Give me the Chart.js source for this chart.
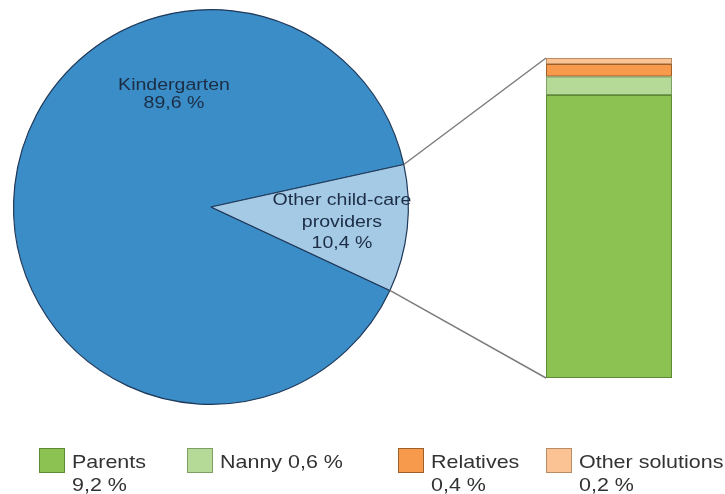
<!DOCTYPE html>
<html>
<head>
<meta charset="utf-8">
<script src="https://cdn.jsdelivr.net/npm/chart.js@4"></script>
<style>
  html, body { margin: 0; padding: 0; background: #fff; }
  #wrap { position: relative; width: 725px; height: 494px; overflow: hidden;
          font-family: 'Liberation Sans', Arial, sans-serif; }
  canvas { position: absolute; left: 0; top: 0; }
  .pie-label { position: absolute; text-align: center; color: #1c2d45; font-size: 16px;
               white-space: nowrap; transform: translateX(-50%) scaleX(1.22); }
  .leg-box { position: absolute; width: 24px; height: 23px; border: 1.5px solid; }
  .leg-text { position: absolute; color: #333; font-size: 19px; line-height: 23px;
              white-space: nowrap; transform: scaleX(1.13); transform-origin: left top; }
</style>
</head>
<body>
<div id="wrap">
  <canvas id="pieChart" width="725" height="494"></canvas>
  <canvas id="barChart" width="725" height="494"></canvas>
</div>
<script>
'use strict';

// ── Data ────────────────────────────────────────────────────────────
const pieLabels = ['Kindergarten', 'Other child-care providers'];
const pieValues = [89.6, 10.4];
const pieText   = [['Kindergarten'], ['Other child-care', 'providers']];

const barLabels = ['Parents', 'Nanny', 'Relatives', 'Other solutions'];
const barValues = [9.2, 0.6, 0.4, 0.2];
const barSplit  = [true, false, true, true];   // value on second line?

const PIE_COLORS = ['#3a8dc6', '#a5cae6'];
const BAR_COLORS  = ['#8cc251', '#b5d996', '#f79a4b', '#fbc394'];
const BAR_BORDERS = ['#5e8a33', '#7d9f64', '#9e5f2a', '#b98c66'];

const fmtPct = v => `${v.toFixed(1).replace('.', ',')} %`;

Chart.defaults.animation = false;

// ── Pie ─────────────────────────────────────────────────────────────
const pieChart = new Chart(document.getElementById('pieChart'), {
  type: 'pie',
  data: {
    labels: pieLabels,
    datasets: [{
      data: pieValues,
      backgroundColor: PIE_COLORS,
      borderColor: '#20395a',
      borderWidth: 1.2,
    }],
  },
  options: {
    responsive: false,
    rotation: 115,
    layout: { padding: { left: 13, top: 9, right: 316, bottom: 89 } },
    plugins: { legend: { display: false }, tooltip: { enabled: false } },
  },
});

// ── Connector lines from the slice to the bar ───────────────────────
const connectorPlugin = {
  id: 'connector',
  afterDraw(chart) {
    const arc = pieChart.getDatasetMeta(0).data[1];
    const top = chart.getDatasetMeta(barValues.length - 1).data[0];
    const bottom = chart.getDatasetMeta(0).data[0];
    const left = top.x - top.width / 2;
    const r = arc.outerRadius;
    const p1 = { x: arc.x + r * Math.cos(arc.startAngle), y: arc.y + r * Math.sin(arc.startAngle) };
    const p2 = { x: arc.x + r * Math.cos(arc.endAngle),   y: arc.y + r * Math.sin(arc.endAngle) };
    const ctx = chart.ctx;
    ctx.save();
    ctx.strokeStyle = '#7d7d7d';
    ctx.lineWidth = 1.5;
    ctx.beginPath();
    ctx.moveTo(p1.x, p1.y); ctx.lineTo(left, top.y);
    ctx.moveTo(p2.x, p2.y); ctx.lineTo(left, bottom.base);
    ctx.stroke();
    ctx.restore();
  },
};

// ── Stacked bar ─────────────────────────────────────────────────────
new Chart(document.getElementById('barChart'), {
  type: 'bar',
  data: {
    labels: [''],
    datasets: barLabels.map((label, i) => ({
      label,
      data: [barValues[i]],
      backgroundColor: BAR_COLORS[i],
      borderColor: BAR_BORDERS[i],
      borderWidth: 1.3,
      borderSkipped: false,
      barPercentage: 1,
      categoryPercentage: 1,
    })),
  },
  options: {
    responsive: false,
    layout: { padding: { left: 546, top: 58, right: 53, bottom: 116 } },
    scales: {
      x: { stacked: true, display: false },
      y: { stacked: true, display: false, min: 0, max: pieValues[1] },
    },
    plugins: { legend: { display: false }, tooltip: { enabled: false } },
  },
  plugins: [connectorPlugin],
});

// ── Text: pie labels and legend ─────────────────────────────────────
const wrap = document.getElementById('wrap');

function addDiv(cls, css, html) {
  const el = document.createElement('div');
  el.className = cls;
  Object.assign(el.style, css);
  if (html != null) el.innerHTML = html;
  wrap.appendChild(el);
  return el;
}

const pieLabelPos = [
  { x: 174, y: 76, lh: 18 },
  { x: 342, y: 189, lh: 21.5 },
];
pieText.forEach((lines, i) => {
  const p = pieLabelPos[i];
  addDiv('pie-label', { left: p.x + 'px', top: p.y + 'px', lineHeight: p.lh + 'px' },
    [...lines, fmtPct(pieValues[i])].join('<br>'));
});

const legendX = [39, 187, 398, 546];
barLabels.forEach((label, i) => {
  const x = legendX[i];
  addDiv('leg-box', { left: x + 'px', top: '448px', background: BAR_COLORS[i], borderColor: BAR_BORDERS[i] });
  const txt = barSplit[i] ? `${label}<br>${fmtPct(barValues[i])}` : `${label} ${fmtPct(barValues[i])}`;
  addDiv('leg-text', { left: (x + 33) + 'px', top: '450px' }, txt);
});
</script>
</body>
</html>
